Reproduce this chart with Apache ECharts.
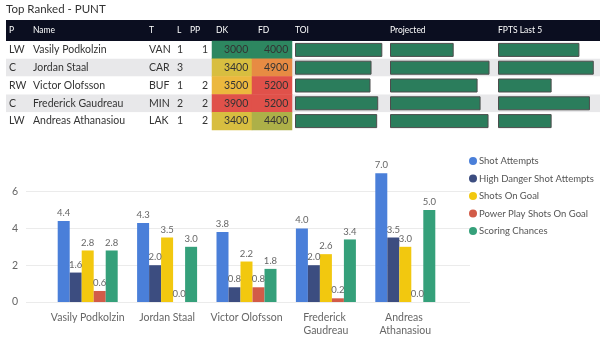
<!DOCTYPE html>
<html>
<head>
<meta charset="utf-8">
<script src="https://cdn.jsdelivr.net/npm/echarts@6/dist/echarts.min.js"></script>
<style>
  html, body { margin: 0; padding: 0; background: #fff; }
  #chart { width: 600px; height: 350px; }
</style>
</head>
<body>
<div id="chart"></div>
<script>
// table data
const positions = ["LW", "C", "RW", "C", "LW"];
const players = ["Vasily Podkolzin", "Jordan Staal", "Victor Olofsson", "Frederick Gaudreau", "Andreas Athanasiou"];
const teams = ["VAN", "CAR", "BUF", "MIN", "LAK"];
const lines = ["1", "3", "1", "2", "1"];
const ppUnits = ["1", "", "2", "2", "2"];
const dkSalary = [3000, 3400, 3500, 3900, 3400];
const fdSalary = [4000, 4900, 5200, 5200, 4400];
const toi = [17.0, 14.9, 14.7, 16.2, 16.0];
const projected = [6.4, 10.0, 8.8, 9.1, 9.9];
const fptsLast5 = [8.5, 10.0, 5.6, 9.6, 5.6];
const tableHeaders = ["P", "Name", "T", "L", "PP", "DK", "FD", "TOI", "Projected", "FPTS Last 5"];

// chart data
const seriesNames = ["Shot Attempts", "High Danger Shot Attempts", "Shots On Goal", "Power Play Shots On Goal", "Scoring Chances"];
const shotAttempts = [4.4, 4.3, 3.8, 4.0, 7.0];
const hdShotAttempts = [1.6, 2.0, 0.8, 2.0, 3.5];
const shotsOnGoal = [2.8, 3.5, 2.2, 2.6, 3.0];
const ppShotsOnGoal = [0.6, 0.0, 0.8, 0.2, 0.0];
const scoringChances = [2.8, 3.0, 1.8, 3.4, 5.0];
const yTicks = [0, 2, 4, 6];

const FONT = "Lato";
const TEXT = "#333333";
const LABEL = "#666666";
const seriesColors = ["#4a7fd9", "#3c4d80", "#f2c80f", "#d25b48", "#35a07a"];
const headerX = [9, 33, 149, 177, 190, 216, 258, 295, 390, 498];

const chart = echarts.init(document.getElementById("chart"));

// row layout of the table
const rowTop = 41, rowHeight = 89;

// text columns of the table drawn as labels of category axes
function textColumn(data, x, alignRight) {
  return {
    type: "category",
    gridIndex: 0,
    data: data,
    inverse: true,
    position: "left",
    offset: 6 - x,
    axisLine: { show: false },
    axisTick: { show: false },
    splitLine: { show: false },
    axisLabel: {
      inside: !alignRight,
      margin: 0,
      color: TEXT,
      fontSize: 10.5,
      fontFamily: FONT,
    },
  };
}

function dataBarGrid(gridIdx, yIdx, values, left, width) {
  return {
    grid: { left: left, width: width, top: rowTop, height: rowHeight },
    xAxis: { type: "value", gridIndex: gridIdx, min: 0, max: (v) => v.max * 1.065, show: false },
    yAxis: { type: "category", gridIndex: gridIdx, data: players, inverse: true, show: false },
    series: {
      type: "bar",
      xAxisIndex: gridIdx,
      yAxisIndex: yIdx,
      data: values,
      barWidth: 14,
      silent: true,
      itemStyle: { color: "#2b7d5c", borderColor: "#4d4d4d", borderWidth: 1 },
    },
  };
}

const barsToi = dataBarGrid(2, 7, toi, 295, 93);
const barsProj = dataBarGrid(3, 8, projected, 390, 106);
const barsFpts = dataBarGrid(4, 9, fptsLast5, 498, 102);

const chartSeries = [shotAttempts, hdShotAttempts, shotsOnGoal, ppShotsOnGoal, scoringChances].map((d, i) => ({
  name: seriesNames[i],
  type: "bar",
  xAxisIndex: 5,
  yAxisIndex: 10,
  data: d,
  barWidth: 12,
  barGap: "0%",
  itemStyle: { color: seriesColors[i] },
  label: {
    show: true,
    position: "top",
    distance: 3,
    color: LABEL,
    fontSize: 9.5,
    fontFamily: FONT,
    formatter: (p) => p.value.toFixed(1),
  },
}));

chart.setOption({
  animation: false,
  textStyle: { fontFamily: FONT },
  graphic: [
    { type: "text", left: 6, top: 3, style: { text: "Top Ranked - PUNT", fill: TEXT, fontSize: 11.5, fontFamily: FONT } },
    { type: "rect", shape: { x: 6, y: 20, width: 594, height: 21 }, style: { fill: "#0b0e20" } },
  ].concat(tableHeaders.map((h, i) => ({
    type: "text",
    x: headerX[i],
    y: 30.5,
    style: { text: h, fill: "#ffffff", fontSize: 8.5, fontFamily: FONT, verticalAlign: "middle" },
  }))),
  grid: [
    { left: 6, right: 0, top: rowTop, height: rowHeight },
    { left: 212, width: 80, top: rowTop, height: rowHeight },
    barsToi.grid, barsProj.grid, barsFpts.grid,
    { left: 26, right: 130, top: 164, bottom: 48 },
    { left: 48, right: 155, top: 164, bottom: 48 },
  ],
  xAxis: [
    { type: "value", gridIndex: 0, show: false },
    { type: "category", gridIndex: 1, data: ["DK", "FD"], show: false },
    barsToi.xAxis, barsProj.xAxis, barsFpts.xAxis,
    {
      type: "category",
      gridIndex: 6,
      data: players,
      axisLine: { show: false },
      axisTick: { show: false },
      axisLabel: {
        color: LABEL,
        fontSize: 10.5,
        fontFamily: FONT,
        margin: 9,
        lineHeight: 13,
        width: 80,
        overflow: "break",
        interval: 0,
      },
    },
    { type: "value", gridIndex: 5, show: false },
  ],
  yAxis: [
    {
      type: "category",
      gridIndex: 0,
      data: players,
      inverse: true,
      axisLine: { show: false },
      axisTick: { show: false },
      axisLabel: { show: false },
      splitArea: { show: true, areaStyle: { color: ["#ffffff", "#e8e8ea"] } },
    },
    textColumn(positions, 9, false),
    textColumn(players, 33, false),
    textColumn(teams, 149, false),
    textColumn(lines, 177, false),
    textColumn(ppUnits, 208, true),
    { type: "category", gridIndex: 1, data: players, inverse: true, show: false },
    barsToi.yAxis, barsProj.yAxis, barsFpts.yAxis,
    { type: "value", gridIndex: 6, min: 0, max: 7.5, interval: 2, show: false },
    {
      type: "value",
      gridIndex: 5,
      min: yTicks[0],
      max: 7.5,
      interval: yTicks[1] - yTicks[0],
      axisLine: { show: false },
      axisTick: { show: false },
      axisLabel: { color: LABEL, fontSize: 10.5, fontFamily: FONT, margin: 8, showMaxLabel: false },
      splitLine: { lineStyle: { color: "#ebebeb" }, showMaxLine: false },
    },
  ],
  visualMap: [
    { show: false, type: "continuous", seriesIndex: 0, dimension: 2, min: Math.min(...dkSalary), max: Math.max(...dkSalary), inRange: { color: ["#2d8760", "#edc53c", "#e0514a"] } },
    { show: false, type: "continuous", seriesIndex: 1, dimension: 2, min: Math.min(...fdSalary), max: Math.max(...fdSalary), inRange: { color: ["#2d8760", "#edc53c", "#e0514a"] } },
  ],
  legend: {
    data: seriesNames,
    orient: "vertical",
    left: 469,
    top: 156,
    padding: 0,
    icon: "circle",
    itemWidth: 8,
    itemHeight: 8,
    itemGap: 7.5,
    textStyle: { color: "#555555", fontSize: 9.5, fontFamily: FONT, padding: [0, 0, 0, -3] },
  },
  series: [
    {
      type: "heatmap",
      xAxisIndex: 1,
      yAxisIndex: 6,
      data: dkSalary.map((v, i) => [0, i, v]),
      label: { show: true, position: "insideRight", distance: 4, color: TEXT, fontSize: 10.5, fontFamily: FONT, formatter: (p) => p.value[2] },
    },
    {
      type: "heatmap",
      xAxisIndex: 1,
      yAxisIndex: 6,
      data: fdSalary.map((v, i) => [1, i, v]),
      label: { show: true, position: "insideRight", distance: 4, color: TEXT, fontSize: 10.5, fontFamily: FONT, formatter: (p) => p.value[2] },
    },
    barsToi.series, barsProj.series, barsFpts.series,
  ].concat(chartSeries),
});
</script>
</body>
</html>
